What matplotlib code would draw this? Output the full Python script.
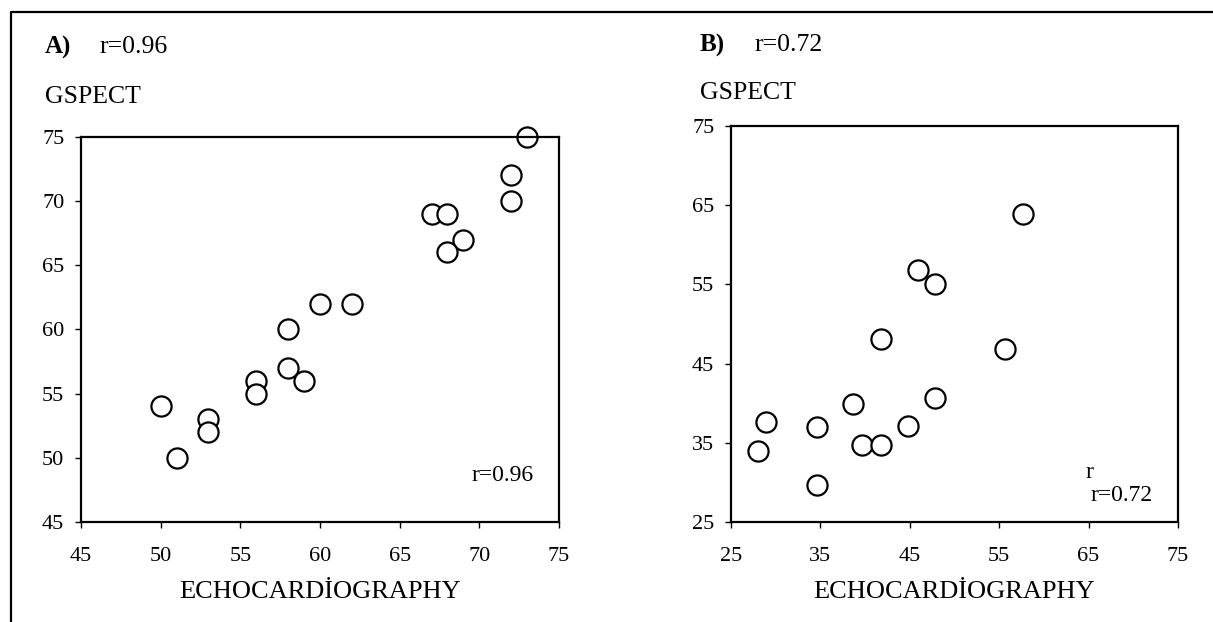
import matplotlib
matplotlib.use("Agg")
import matplotlib.pyplot as plt
from matplotlib.lines import Line2D

plt.rcParams['font.family'] = ['Liberation Serif', 'DejaVu Serif']

# panel A: echo vs gated SPECT
echo_a = [73, 72, 72, 67, 68, 69, 68, 60, 62, 58, 58, 59, 56, 56, 50, 53, 53, 51]
gspect_a = [75, 72, 70, 69, 69, 67, 66, 62, 62, 60, 57, 56, 56, 55, 54, 53, 52, 50]
ticks_a = [45, 50, 55, 60, 65, 70, 75]

# panel B
echo_b = [57.7, 45.9, 47.8, 41.8, 55.6, 47.8, 38.7, 28.9, 34.6, 44.8, 39.7, 41.8, 28.0, 34.6]
gspect_b = [63.9, 56.8, 55.0, 48.1, 46.8, 40.7, 39.9, 37.6, 37.0, 37.1, 34.7, 34.7, 33.9, 29.7]
ticks_b = [25, 35, 45, 55, 65, 75]

fig = plt.figure(figsize=(12.13, 6.22), dpi=100)

# frame around the figure (left and top only, rest is cut off)
fig.add_artist(Line2D([0.009, 0.009, 1.0], [0.0, 0.981, 0.981],
                      transform=fig.transFigure, color='black', lw=1.6))

def panel(rect, x, y, ticks, letter, rtext, lx, ly_title, ly_label):
    ax = fig.add_axes(rect)
    ax.plot(x, y, 'o', ms=14.5, mfc='white', mec='black', mew=1.6, clip_on=False)
    ax.set_xlim(ticks[0], ticks[-1])
    ax.set_ylim(ticks[0], ticks[-1])
    ax.set_xticks(ticks)
    ax.set_yticks(ticks)
    for s in ax.spines.values():
        s.set_linewidth(1.6)
    ax.tick_params(direction='out', length=4, width=1, labelsize=16)
    ax.tick_params(axis='y', pad=8)
    ax.tick_params(axis='x', pad=14)
    ax.set_xlabel('ECHOCARDİOGRAPHY', fontsize=19, labelpad=11)
    fig.text(lx, ly_title, letter, fontsize=18, fontweight='bold', va='center')
    fig.text(lx + 0.0453, ly_title, rtext, fontsize=18.5, va='center')
    fig.text(lx, ly_label, 'GSPECT', fontsize=18.5, va='center')
    return ax

ax1 = panel([0.0668, 0.1608, 0.394, 0.619], echo_a, gspect_a, ticks_a,
            'A)', 'r=0.96', 0.0371, 0.9244, 0.844)
ax1.text(0.946, 0.122, 'r=0.96', transform=ax1.transAxes, ha='right', va='center', fontsize=17)

ax2 = panel([0.6026, 0.1608, 0.3685, 0.6367], echo_b, gspect_b, ticks_b,
            'B)', 'r=0.72', 0.5771, 0.9277, 0.8505)
ax2.text(0.944, 0.068, 'r=0.72', transform=ax2.transAxes, ha='right', va='center', fontsize=17)
ax2.text(0.794, 0.125, 'r', transform=ax2.transAxes, ha='left', va='center', fontsize=17)

fig.savefig('out.png', dpi=100)
